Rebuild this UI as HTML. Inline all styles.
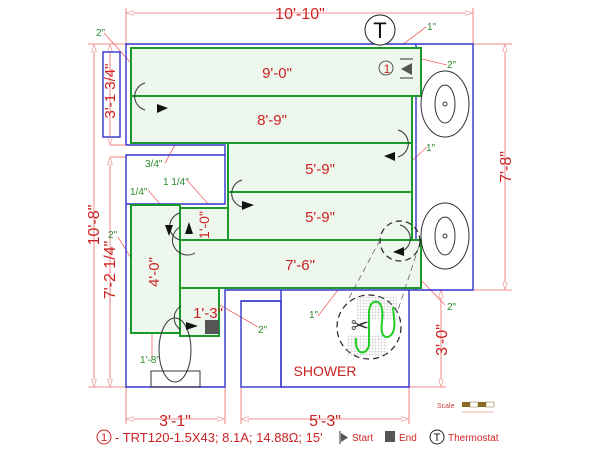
<!DOCTYPE html>
<html><head><meta charset="utf-8"><style>
html,body{margin:0;padding:0;background:#fff;}
svg{display:block;font-family:"Liberation Sans",sans-serif;}
</style></head><body>
<svg width="600" height="450" viewBox="0 0 600 450" xmlns="http://www.w3.org/2000/svg">
<defs>
<marker id="ah" viewBox="0 0 10 6" refX="10" refY="3" markerWidth="10" markerHeight="6" orient="auto-start-reverse"><path d="M0,0 L10,3 L0,6 Z" fill="#fff" stroke="#e88" stroke-width="0.8"/></marker>
<pattern id="grid" width="3" height="3" patternUnits="userSpaceOnUse"><path d="M3,0 L0,0 0,3" fill="none" stroke="#aaa" stroke-width="0.5"/></pattern>
</defs>
<g stroke="#e66" stroke-width="0.8" fill="none">
<line x1="126" y1="13" x2="473" y2="13" marker-start="url(#ah)" marker-end="url(#ah)"/>
<line x1="126" y1="8" x2="126" y2="44"/><line x1="473" y1="8" x2="473" y2="44"/>
<line x1="88" y1="44" x2="126" y2="44"/><line x1="473" y1="44" x2="512" y2="44"/>
<line x1="473" y1="290" x2="512" y2="290"/>
<line x1="505" y1="44" x2="505" y2="290" marker-start="url(#ah)" marker-end="url(#ah)"/>
<line x1="94" y1="44" x2="94" y2="387" marker-start="url(#ah)" marker-end="url(#ah)"/>
<line x1="110" y1="44" x2="110" y2="145" marker-start="url(#ah)" marker-end="url(#ah)"/>
<line x1="110" y1="145" x2="126" y2="145"/>
<line x1="110" y1="157" x2="126" y2="157"/>
<line x1="110" y1="157" x2="110" y2="387" marker-start="url(#ah)" marker-end="url(#ah)"/>
<line x1="88" y1="387" x2="126" y2="387"/>
<line x1="409" y1="387" x2="446" y2="387"/>
<line x1="441" y1="290" x2="441" y2="387" marker-start="url(#ah)" marker-end="url(#ah)"/>
<line x1="126" y1="387" x2="126" y2="424"/><line x1="225" y1="387" x2="225" y2="424"/>
<line x1="241" y1="387" x2="241" y2="424"/><line x1="409" y1="387" x2="409" y2="424"/>
<line x1="126" y1="419" x2="225" y2="419" marker-start="url(#ah)" marker-end="url(#ah)"/>
<line x1="241" y1="419" x2="409" y2="419" marker-start="url(#ah)" marker-end="url(#ah)"/>
<line x1="104" y1="33" x2="130" y2="62"/>
<line x1="402" y1="45" x2="426" y2="27"/>
<line x1="418" y1="58" x2="447" y2="65"/>
<line x1="413" y1="160" x2="427" y2="147"/>
<line x1="165" y1="163" x2="175" y2="145"/>
<line x1="187" y1="180" x2="209" y2="205"/>
<line x1="148" y1="190" x2="160" y2="204"/>
<line x1="118" y1="237" x2="131" y2="258"/>
<line x1="318" y1="316" x2="338" y2="290"/>
<line x1="421" y1="280" x2="445" y2="305"/>
<line x1="220" y1="305" x2="258" y2="327"/>
<line x1="152" y1="333" x2="152" y2="360"/>
</g>
<g stroke="#33c" stroke-width="1.4" fill="none">
<polyline points="126,145 126,44 473,44 473,290 225,290 225,387 126,387 126,155 225,155 225,204 126,204"/>
<polyline points="126,145 225,145 225,155"/>
<line x1="416" y1="44" x2="416" y2="290"/>
<rect x="103" y="52" width="17" height="85"/>
<rect x="241" y="301" width="40" height="86"/>
<polyline points="281,290 281,387 409,387 409,290"/>
<line x1="241" y1="301" x2="281" y2="301"/>
</g>
<g stroke="#1a9a2a" stroke-width="2" fill="#eef7ee">
<rect x="131" y="48" width="290" height="48"/>
<rect x="131" y="96" width="281" height="47"/>
<rect x="228" y="143" width="184" height="49"/>
<rect x="228" y="192" width="184" height="48"/>
<rect x="131" y="205" width="49" height="128"/>
<rect x="180" y="208" width="48" height="32"/>
<rect x="180" y="240" width="241" height="48"/>
<rect x="180" y="288" width="39" height="48"/>
</g>
<rect x="205" y="320" width="14" height="14" fill="#555"/>
<g fill="#c22" font-size="15" text-anchor="middle">
<text x="300" y="19" font-size="16">10'-10"</text>
<text x="277" y="78">9'-0"</text>
<text x="272" y="125">8'-9"</text>
<text x="320" y="174">5'-9"</text>
<text x="320" y="222">5'-9"</text>
<text x="300" y="270">7'-6"</text>
<text x="208" y="318">1'-3"</text>
<text x="325" y="376" font-size="14">SHOWER</text>
<text x="175" y="426" font-size="16">3'-1"</text>
<text x="325" y="426" font-size="16">5'-3"</text>
<text transform="translate(159,272) rotate(-90)">4'-0"</text>
<text transform="translate(209,225) rotate(-90)" font-size="14">1'-0"</text>
<text transform="translate(115,91) rotate(-90)">3'-1 3/4"</text>
<text transform="translate(99,225) rotate(-90)" font-size="16">10'-8"</text>
<text transform="translate(115,270) rotate(-90)" font-size="16">7'-2 1/4"</text>
<text transform="translate(511,167) rotate(-90)" font-size="16">7'-8"</text>
<text transform="translate(447,340) rotate(-90)" font-size="16">3'-0"</text>
<text x="387" y="73" font-size="12">1</text>
</g>
<circle cx="386" cy="68" r="7" fill="none" stroke="#333" stroke-width="0.8"/>
<path d="M401,69 L412,63 L412,75 Z" fill="#555"/>
<line x1="400" y1="59" x2="413" y2="59" stroke="#333"/><line x1="400" y1="78" x2="413" y2="78" stroke="#333"/>
<g fill="#2a8a2a" font-size="10">
<text x="96" y="36">2"</text><text x="427" y="30">1"</text><text x="447" y="68">2"</text>
<text x="426" y="151">1"</text><text x="145" y="167">3/4"</text><text x="163" y="185">1 1/4"</text>
<text x="130" y="195">1/4"</text><text x="108" y="238">2"</text><text x="309" y="318">1"</text>
<text x="447" y="310">2"</text><text x="258" y="333">2"</text><text x="140" y="363">1'-8"</text>
</g>
<circle cx="380" cy="30" r="15" fill="#fff" stroke="#222" stroke-width="1"/>
<text x="380" y="38" font-size="22" text-anchor="middle" fill="#111">T</text>
<g fill="none" stroke="#333" stroke-width="1">
<ellipse cx="445" cy="104" rx="24" ry="33"/><ellipse cx="445" cy="104" rx="10" ry="19"/>
<ellipse cx="445" cy="236" rx="24" ry="33"/><ellipse cx="445" cy="236" rx="10" ry="19"/>
<circle cx="445" cy="104" r="2"/><circle cx="445" cy="236" r="2"/>
<ellipse cx="175" cy="350" rx="16" ry="32"/>
<rect x="151" y="371" width="49" height="16"/>
<path d="M145,83 A14,14 0 0 0 145,110"/>
<path d="M398,130 A14,14 0 0 1 398,157"/>
<path d="M242,180 A14,14 0 0 0 242,207"/>
<path d="M180,213 A14,14 0 0 0 180,240"/>
<path d="M180,227 A14,14 0 0 0 195,253"/>
<path d="M181,306 A14,14 0 0 0 181,330"/>
<path d="M400,225 A14,14 0 0 1 400,252"/>
</g>
<g fill="#111">
<path d="M157,104 L157,113 L168,108 Z"/>
<path d="M395,152 L395,161 L384,156 Z"/>
<path d="M242,201 L242,210 L254,205 Z"/>
<path d="M165,225 L173,225 L169,236 Z"/>
<path d="M185,234 L193,234 L189,222 Z"/>
<path d="M186,322 L186,330 L198,326 Z"/>
<path d="M404,247 L404,256 L393,252 Z"/>
</g>
<g fill="none" stroke="#222" stroke-width="1.2" stroke-dasharray="6,4">
<circle cx="400" cy="241" r="20"/>
<circle cx="369" cy="327" r="32"/>
</g>
<g stroke="#555" stroke-width="0.7" stroke-dasharray="6,4">
<line x1="380" y1="240" x2="347" y2="302"/><line x1="419" y1="246" x2="398" y2="310"/>
</g>
<rect x="357" y="296" width="40" height="24" fill="url(#grid)"/>
<rect x="347" y="335" width="40" height="22" fill="url(#grid)"/>
<path d="M369,346 L369,312 Q370,300 378,302 Q384,306 382,322 Q380,338 388,337 Q396,334 394,318 L393,307" fill="none" stroke="#2c2" stroke-width="2"/>
<path d="M369,346 Q366,354 360,352 Q355,348 356,338" fill="none" stroke="#2c2" stroke-width="2"/>
<text x="360" y="333" font-size="22" fill="#333" text-anchor="middle">✂</text>
<text x="437" y="408" font-size="7" fill="#c44">Scale</text>
<rect x="462" y="402" width="8" height="5" fill="#8a6a20"/><rect x="470" y="402" width="8" height="5" fill="#fff" stroke="#8a6a20" stroke-width="0.5"/>
<rect x="478" y="402" width="8" height="5" fill="#8a6a20"/><rect x="486" y="402" width="8" height="5" fill="#fff" stroke="#8a6a20" stroke-width="0.5"/>
<line x1="462" y1="412" x2="494" y2="412" stroke="#e66" stroke-width="0.6"/>
<circle cx="104" cy="437" r="7" fill="none" stroke="#c22" stroke-width="1"/>
<text x="104" y="441" font-size="11" fill="#c22" text-anchor="middle">1</text>
<text x="115" y="442" font-size="13" fill="#c22">- TRT120-1.5X43; 8.1A; 14.88Ω; 15'</text>
<line x1="340" y1="431" x2="340" y2="444" stroke="#333"/>
<path d="M341,433 L348,437.5 L341,442 Z" fill="#555"/>
<text x="352" y="441" font-size="10" fill="#c22">Start</text>
<rect x="385" y="431" width="10" height="11" fill="#555"/>
<text x="399" y="441" font-size="10" fill="#c22">End</text>
<circle cx="437" cy="437" r="7" fill="none" stroke="#222"/>
<text x="437" y="441" font-size="11" fill="#111" text-anchor="middle">T</text>
<text x="448" y="441" font-size="10" fill="#c22">Thermostat</text>
</svg>
</body></html>
